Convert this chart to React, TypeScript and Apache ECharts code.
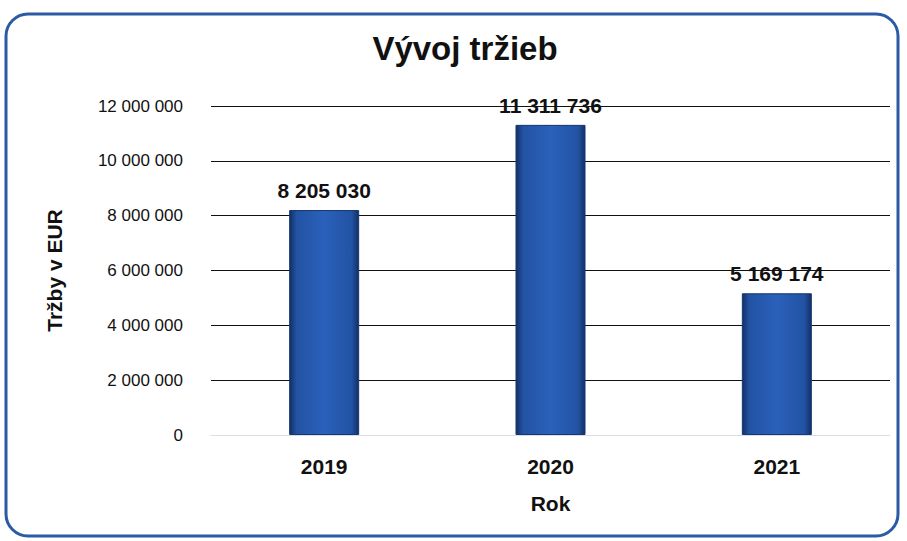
import React, { useEffect, useRef } from "react";
import * as echarts from "echarts";

const categories = ["2019", "2020", "2021"];
const values = [8205030, 11311736, 5169174];
const yTicks = { min: 0, max: 12000000, interval: 2000000 };

const fmt = (v: number) => String(Math.round(v)).replace(/\B(?=(\d{3})+(?!\d))/g, " ");

export default function App() {
  const ref = useRef<HTMLDivElement>(null);
  useEffect(() => {
    const chart = echarts.init(ref.current!, null, { renderer: "svg" });
    const font = "'Liberation Sans', Arial, sans-serif";
    chart.setOption({
      animation: false,
      backgroundColor: "#ffffff",
      title: {
        text: "Vývoj tržieb",
        left: 460,
        top: 27,
        textAlign: "center",
        textStyle: { fontFamily: font, fontSize: 33, fontWeight: "bold", color: "#111" },
      },
      graphic: [
        {
          type: "rect",
          shape: { x: 6, y: 14, width: 892, height: 522, r: 22 },
          style: { fill: "none", stroke: "#2c5ba6", lineWidth: 3 },
          z: 100,
        },
      ],
      grid: { left: 211, right: 17, top: 106, bottom: 106 },
      xAxis: {
        type: "category",
        data: categories,
        name: "Rok",
        nameLocation: "middle",
        nameGap: 58,
        nameTextStyle: { fontFamily: font, fontSize: 21, fontWeight: "bold", color: "#111" },
        axisLine: { show: true, lineStyle: { color: "#d8dde6", width: 1 } },
        axisTick: { show: false },
        axisLabel: { fontFamily: font, fontSize: 21, fontWeight: "bold", color: "#111", margin: 21 },
      },
      yAxis: {
        type: "value",
        min: yTicks.min,
        max: yTicks.max,
        interval: yTicks.interval,
        name: "Tržby v EUR",
        nameLocation: "middle",
        nameGap: 146,
        nameRotate: 90,
        nameTextStyle: { fontFamily: font, fontSize: 21, fontWeight: "bold", color: "#111" },
        axisLine: { show: false },
        axisTick: { show: false },
        axisLabel: {
          fontFamily: font,
          fontSize: 17,
          color: "#111",
          margin: 28,
          formatter: (v: number) => fmt(v),
        },
        splitLine: {
          lineStyle: { color: "#111", width: 1 },
          showMinLine: false,
        },
      },
      series: [
        {
          type: "bar",
          data: values,
          barWidth: 70,
          itemStyle: {
            color: new echarts.graphic.LinearGradient(0, 0, 1, 0, [
              { offset: 0, color: "#142f66" },
              { offset: 0.1, color: "#2253a3" },
              { offset: 0.5, color: "#2b61bb" },
              { offset: 0.9, color: "#2253a3" },
              { offset: 1, color: "#142f66" },
            ]),
            borderColor: "#16376f",
            borderWidth: 1,
          },
          label: {
            show: true,
            position: "top",
            distance: 9,
            fontFamily: font,
            fontSize: 21,
            fontWeight: "bold",
            color: "#111",
            formatter: (p: any) => fmt(p.value),
          },
        },
      ],
    });
    return () => chart.dispose();
  }, []);
  return (
    <div
      ref={ref}
      style={{ position: "fixed", left: 0, top: 0, width: 907, height: 541 }}
    />
  );
}
